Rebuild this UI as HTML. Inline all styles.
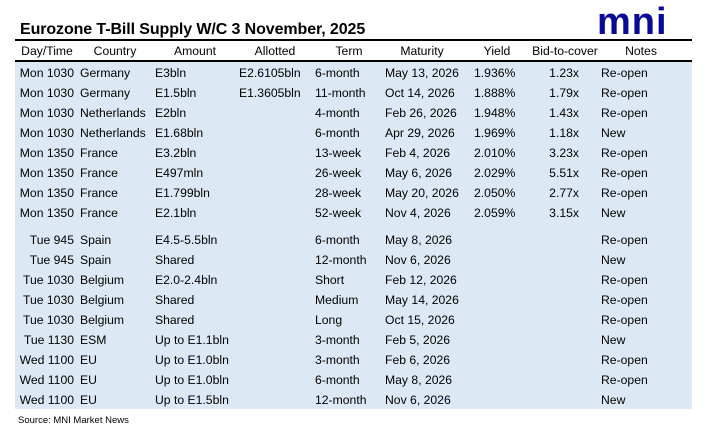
<!DOCTYPE html><html><head><style>
body{margin:0;width:716px;height:432px;background:#fff;position:relative;font-family:"Liberation Sans",Arial,sans-serif;overflow:hidden}
.t{position:absolute;left:20px;top:21px;font-size:16px;font-weight:bold;color:#000;letter-spacing:-0.1px}
.logo{position:absolute;left:597px;top:0px;font-size:38px;font-weight:bold;color:#0a0a96;letter-spacing:1px;font-family:"Liberation Sans",sans-serif;line-height:44px}
.l1{position:absolute;left:15px;width:677px;top:39px;height:2px;background:#000}
.l2{position:absolute;left:15px;width:677px;top:60px;height:2px;background:#000}
.bg{position:absolute;left:15px;width:677px;top:62px;height:347px;background:#dce9f5}
.r{position:absolute;left:0;width:716px;height:20px;font-size:12.2px;color:#000}
.r span{position:absolute;top:0;white-space:nowrap;line-height:20px}
.h span{transform:translateX(-50%)}
.d{right:642px}.c{left:80px}.a{left:155px}.al{left:239px}.te{left:315px}.m{left:385px}.y{left:474px}.b{right:137px}.n{left:601px}
.s{position:absolute;left:18px;top:415px;font-size:9.5px}
</style></head><body>
<div class="t">Eurozone T-Bill Supply W/C 3 November, 2025</div>
<div class="logo">mni</div>
<div class="l1"></div><div class="bg"></div><div class="l2"></div>
<div class="r h" style="top:41px"><span style="left:47px">Day/Time</span><span style="left:115px">Country</span><span style="left:195px">Amount</span><span style="left:275px">Allotted</span><span style="left:349px">Term</span><span style="left:422px">Maturity</span><span style="left:497px">Yield</span><span style="left:565px">Bid-to-cover</span><span style="left:641px">Notes</span></div>
<div class="r" style="top:63px"><span class="d">Mon 1030</span><span class="c">Germany</span><span class="a">E3bln</span><span class="al">E2.6105bln</span><span class="te">6-month</span><span class="m">May 13, 2026</span><span class="y">1.936%</span><span class="b">1.23x</span><span class="n">Re-open</span></div>
<div class="r" style="top:83px"><span class="d">Mon 1030</span><span class="c">Germany</span><span class="a">E1.5bln</span><span class="al">E1.3605bln</span><span class="te">11-month</span><span class="m">Oct 14, 2026</span><span class="y">1.888%</span><span class="b">1.79x</span><span class="n">Re-open</span></div>
<div class="r" style="top:103px"><span class="d">Mon 1030</span><span class="c">Netherlands</span><span class="a">E2bln</span><span class="te">4-month</span><span class="m">Feb 26, 2026</span><span class="y">1.948%</span><span class="b">1.43x</span><span class="n">Re-open</span></div>
<div class="r" style="top:123px"><span class="d">Mon 1030</span><span class="c">Netherlands</span><span class="a">E1.68bln</span><span class="te">6-month</span><span class="m">Apr 29, 2026</span><span class="y">1.969%</span><span class="b">1.18x</span><span class="n">New</span></div>
<div class="r" style="top:143px"><span class="d">Mon 1350</span><span class="c">France</span><span class="a">E3.2bln</span><span class="te">13-week</span><span class="m">Feb 4, 2026</span><span class="y">2.010%</span><span class="b">3.23x</span><span class="n">Re-open</span></div>
<div class="r" style="top:163px"><span class="d">Mon 1350</span><span class="c">France</span><span class="a">E497mln</span><span class="te">26-week</span><span class="m">May 6, 2026</span><span class="y">2.029%</span><span class="b">5.51x</span><span class="n">Re-open</span></div>
<div class="r" style="top:183px"><span class="d">Mon 1350</span><span class="c">France</span><span class="a">E1.799bln</span><span class="te">28-week</span><span class="m">May 20, 2026</span><span class="y">2.050%</span><span class="b">2.77x</span><span class="n">Re-open</span></div>
<div class="r" style="top:203px"><span class="d">Mon 1350</span><span class="c">France</span><span class="a">E2.1bln</span><span class="te">52-week</span><span class="m">Nov 4, 2026</span><span class="y">2.059%</span><span class="b">3.15x</span><span class="n">New</span></div>
<div class="r" style="top:230px"><span class="d">Tue 945</span><span class="c">Spain</span><span class="a">E4.5-5.5bln</span><span class="te">6-month</span><span class="m">May 8, 2026</span><span class="n">Re-open</span></div>
<div class="r" style="top:250px"><span class="d">Tue 945</span><span class="c">Spain</span><span class="a">Shared</span><span class="te">12-month</span><span class="m">Nov 6, 2026</span><span class="n">New</span></div>
<div class="r" style="top:270px"><span class="d">Tue 1030</span><span class="c">Belgium</span><span class="a">E2.0-2.4bln</span><span class="te">Short</span><span class="m">Feb 12, 2026</span><span class="n">Re-open</span></div>
<div class="r" style="top:290px"><span class="d">Tue 1030</span><span class="c">Belgium</span><span class="a">Shared</span><span class="te">Medium</span><span class="m">May 14, 2026</span><span class="n">Re-open</span></div>
<div class="r" style="top:310px"><span class="d">Tue 1030</span><span class="c">Belgium</span><span class="a">Shared</span><span class="te">Long</span><span class="m">Oct 15, 2026</span><span class="n">Re-open</span></div>
<div class="r" style="top:330px"><span class="d">Tue 1130</span><span class="c">ESM</span><span class="a">Up to E1.1bln</span><span class="te">3-month</span><span class="m">Feb 5, 2026</span><span class="n">New</span></div>
<div class="r" style="top:350px"><span class="d">Wed 1100</span><span class="c">EU</span><span class="a">Up to E1.0bln</span><span class="te">3-month</span><span class="m">Feb 6, 2026</span><span class="n">Re-open</span></div>
<div class="r" style="top:370px"><span class="d">Wed 1100</span><span class="c">EU</span><span class="a">Up to E1.0bln</span><span class="te">6-month</span><span class="m">May 8, 2026</span><span class="n">Re-open</span></div>
<div class="r" style="top:390px"><span class="d">Wed 1100</span><span class="c">EU</span><span class="a">Up to E1.5bln</span><span class="te">12-month</span><span class="m">Nov 6, 2026</span><span class="n">New</span></div>
<div class="s">Source: MNI Market News</div>
</body></html>
